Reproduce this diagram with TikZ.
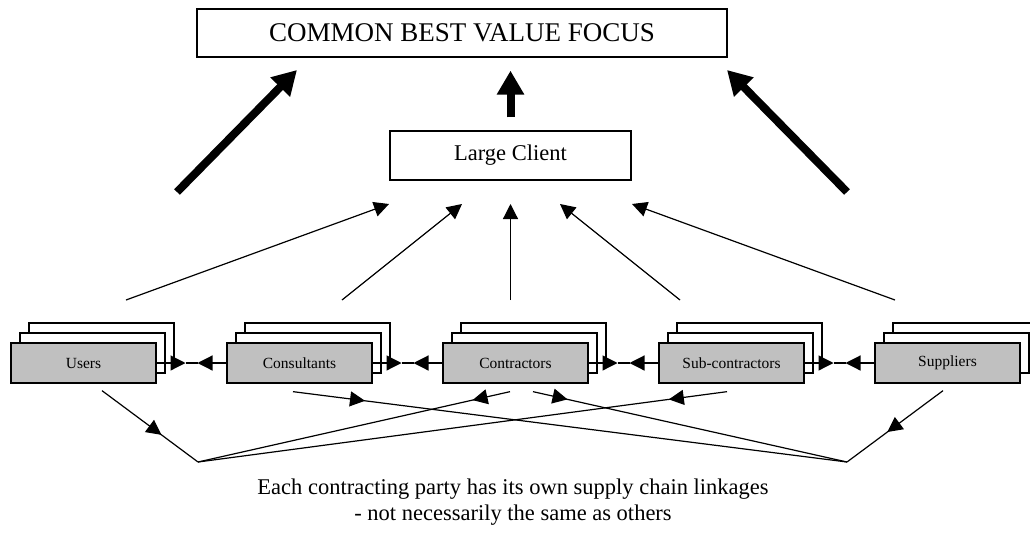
\documentclass[tikz,border=0pt]{standalone}
\usepackage{fontspec}
\setmainfont{Liberation Serif}
\usetikzlibrary{arrows.meta,calc,decorations.markings}
\definecolor{boxgray}{RGB}{192,192,192}
\newcommand\stackbox[3]{%
  \draw[backbox] (#2-72.5+18,323) rectangle ++(145,40);
  \draw[backbox] (#2-72.5+9,333) rectangle ++(145,40);
  \node[party] (#1) at (#2,363) {#3};
}
\begin{document}
\begin{tikzpicture}[x=1pt,y=-1pt,
  party/.style={draw, line width=1.3pt, fill=boxgray, minimum width=145pt, minimum height=40pt, inner sep=0pt, font=\fontsize{15.5}{18}\selectfont},
  backbox/.style={draw, line width=1.3pt, fill=white},
  titlebox/.style={draw, line width=1.3pt, fill=white, inner sep=0pt},
  thinline/.style={line width=1.2pt},
  thinarrow/.style={thinline, -{Triangle[length=15pt,width=15pt]}},
  thickarrow/.style={line width=8pt, -{Triangle[length=24pt,width=26pt]}},
  fwd/.style={thinline, postaction={decorate}, decoration={markings, mark=at position #1 with {\arrow{Triangle[length=15pt,width=15pt]}}}}
]
\useasboundingbox (0,0) rectangle (1030,544);
\clip (0,0) rectangle (1030,544);

% top boxes
\node[titlebox, minimum width=530pt, minimum height=48pt, font=\fontsize{27}{30}\selectfont] (focus) at (462,33) {COMMON BEST VALUE FOCUS};
\node[titlebox, minimum width=241pt, minimum height=49pt, font=\fontsize{22.5}{26}\selectfont] (client) at (510.5,155.5) {Large Client};

% parties
\stackbox{users}{83.5}{Users}
\stackbox{cons}{299.5}{Consultants}
\stackbox{contr}{515.5}{Contractors}
\stackbox{sub}{731.5}{Sub-contractors}
\stackbox{supp}{947.5}{Suppliers}

% thick arrows
\coordinate (t1s) at (177,192); \coordinate (t1e) at (297,70);
\coordinate (t2s) at ($(client.north)+(0,-13)$); \coordinate (t2e) at ($(focus.south)!(client.north)!(focus.south east)+(0,13)$);
\coordinate (t3s) at (847,192); \coordinate (t3e) at (727,70);
\draw[thickarrow] (t1s) -- (t1e);
\draw[thickarrow] (t2s) -- (t2e);
\draw[thickarrow] (t3s) -- (t3e);

% thin arrows to client
\coordinate (a1s) at (126,300); \coordinate (a1e) at (389,204);
\coordinate (a2s) at (342,300); \coordinate (a2e) at (462,204);
\coordinate (a3s) at (510.5,300); \coordinate (a3e) at (510.5,204);
\coordinate (a4s) at (680,300); \coordinate (a4e) at (560,204);
\coordinate (a5s) at (895,300); \coordinate (a5e) at (632,204);
\foreach \i in {1,...,5}{\draw[thinarrow] (a\i s) -- (a\i e);}

% horizontal links
\foreach \a/\b in {users/cons, cons/contr, contr/sub, sub/supp}{
  \coordinate (m) at ($(\a.east)!0.5!(\b.west)$);
  \draw[thinarrow] (\a.east) -- ($(m)+(-6,0)$);
  \draw[thinarrow] (\b.west) -- ($(m)+(6,0)$);
  \draw[thinline] ($(m)+(-6,0)$) -- ($(m)+(6,0)$);
}

% supply chain linkages
\coordinate (V1) at (198,462);
\coordinate (V2) at (847,462);
\coordinate (s1) at ($(users.south)+(18.5,7)$);
\coordinate (s2) at ($(cons.south)+(-6.5,8)$);
\coordinate (s3) at ($(contr.south)+(-5.5,8)$);
\coordinate (s4) at ($(contr.south)+(17.5,8)$);
\coordinate (s5) at ($(sub.south)+(-4.5,8)$);
\coordinate (s6) at ($(supp.south)+(-4.5,7)$);
\draw[fwd=0.62] (s1) -- (V1);
\draw[fwd=0.13] (s2) -- (V2);
\draw[fwd=0.12] (s3) -- (V1);
\draw[fwd=0.11] (s4) -- (V2);
\draw[fwd=0.11] (s5) -- (V1);
\draw[fwd=0.58] (s6) -- (V2);

\node[align=center, font=\fontsize{22.5}{26}\selectfont] (note) at (513,502) {Each contracting party has its own supply chain linkages\\- not necessarily the same as others};
\end{tikzpicture}
\end{document}
